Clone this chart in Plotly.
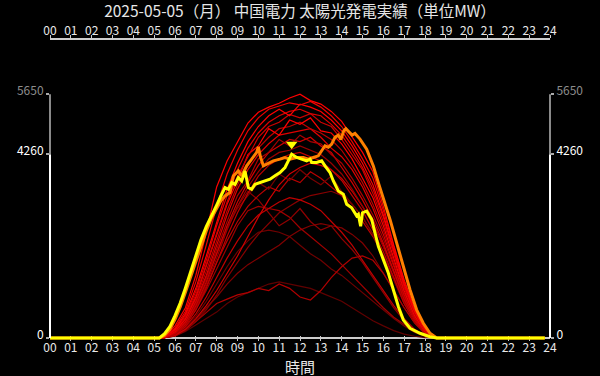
import plotly.graph_objects as go

TITLE = "2025-05-05（月） 中国電力 太陽光発電実績（単位MW）"
X_TITLE = "時間"
HOUR_TICKS = list(range(25))
HOUR_LABELS = [f"{h:02d}" for h in HOUR_TICKS]
Y_TICKS = [0, 4260, 5650]
Y_TICK_LABELS = ["0", "4260", "5650"]

# --- past days (30-minute readings, 00:00 / 05:00 ... 19:00 / 23:45) ---
PAST_T = [0.0, 5.0, 5.5, 6.0, 6.5, 7.0, 7.5, 8.0, 8.5, 9.0, 9.5, 10.0, 10.5, 11.0, 11.5,
          12.0, 12.5, 13.0, 13.5, 14.0, 14.5, 15.0, 15.5, 16.0, 16.5, 17.0, 17.5, 18.0,
          18.5, 19.0, 23.75]

C1 = [0, 0, 10, 90, 300, 650, 1100, 1600, 2100, 2600, 2950, 3050, 3000, 2950, 2800, 2550, 2350, 2150, 1950, 1700, 1450, 1200, 950, 700, 480, 320, 150, 50, 5, 0, 0]
C2 = [0, 0, 5, 60, 200, 420, 700, 950, 1250, 1500, 1700, 1850, 2000, 2150, 2350, 2500, 2600, 2650, 2600, 2550, 2400, 2200, 1900, 1500, 1100, 700, 350, 100, 5, 0, 0]
C3 = [0, 0, 5, 50, 180, 380, 600, 800, 900, 1000, 1050, 1150, 1100, 1250, 1150, 950, 880, 1100, 1400, 1650, 1850, 1900, 1800, 1500, 1100, 700, 350, 90, 5, 0, 0]
C4 = [0, 0, 5, 70, 230, 500, 850, 1250, 1650, 2000, 2250, 2450, 2500, 2450, 2350, 2150, 1950, 1800, 1600, 1450, 1250, 1050, 850, 650, 450, 280, 130, 40, 0, 0, 0]
C5 = [0, 0, 5, 80, 260, 560, 950, 1400, 1850, 2250, 2600, 2850, 3000, 3150, 3250, 3200, 3100, 2950, 2700, 2450, 2150, 1800, 1450, 1100, 750, 450, 200, 60, 5, 0, 0]
C6 = [0, 0, 5, 40, 150, 300, 450, 600, 800, 950, 1050, 1150, 1250, 1300, 1250, 1200, 1150, 1050, 950, 850, 700, 550, 400, 280, 170, 90, 40, 10, 0, 0, 0]
C7 = [0, 0, 10, 100, 320, 700, 1200, 1750, 2250, 2700, 3050, 3300, 3500, 3400, 3700, 3600, 3850, 3700, 3500, 3300, 3000, 2700, 2350, 1900, 1400, 850, 400, 110, 5, 0, 0]
C8 = [0, 0, 5, 60, 200, 450, 750, 1100, 1500, 1900, 2350, 2800, 3200, 3550, 3800, 3950, 4050, 4000, 3900, 3700, 3400, 3050, 2650, 2150, 1550, 950, 450, 120, 5, 0, 0]
C9 = [0, 0, 10, 110, 360, 780, 1350, 1950, 2550, 3050, 3400, 3200, 2900, 2600, 2750, 3000, 2700, 2500, 2600, 2300, 2050, 1750, 1400, 1050, 700, 400, 180, 50, 0, 0, 0]
C10 = [0, 0, 10, 120, 380, 820, 1400, 2000, 2550, 3000, 3300, 3600, 3450, 3800, 3650, 3900, 3700, 3550, 3750, 3400, 3100, 2800, 2400, 1900, 1350, 800, 380, 100, 5, 0, 0]
C11 = [0, 0, 5, 50, 170, 380, 650, 1000, 1400, 1750, 2100, 2400, 2650, 2900, 3050, 3200, 3300, 3350, 3400, 3300, 3100, 2800, 2400, 1900, 1350, 800, 380, 100, 5, 0, 0]

D1 = [0, 0, 40, 280, 700, 1450, 2450, 3500, 4100, 4550, 4980, 5230, 5350, 5440, 5560, 5650, 5500, 5420, 5250, 5020, 4650, 4300, 3850, 3050, 2150, 1350, 680, 220, 20, 0, 0]
D2 = [0, 0, 30, 230, 620, 1300, 2150, 3050, 3800, 4350, 4800, 5100, 5300, 5380, 5450, 5400, 5480, 5350, 5150, 4900, 4550, 4150, 3700, 2950, 2100, 1300, 650, 200, 15, 0, 0]
D3 = [0, 0, 25, 200, 560, 1150, 1900, 2700, 3450, 4050, 4550, 4900, 5150, 5300, 5150, 5420, 5350, 5250, 5050, 4800, 4450, 4050, 3550, 2850, 2050, 1250, 620, 190, 10, 0, 0]
D4 = [0, 0, 20, 180, 520, 1080, 1800, 2600, 3300, 3900, 4400, 4750, 5000, 5150, 5250, 5300, 5200, 5150, 4950, 4700, 4350, 3950, 3450, 2800, 2000, 1200, 600, 180, 10, 0, 0]
D5 = [0, 0, 20, 170, 480, 1000, 1700, 2450, 3150, 3750, 4200, 4650, 4900, 5000, 5180, 5100, 5200, 5000, 4900, 4600, 4250, 3900, 3350, 2700, 1950, 1150, 560, 160, 10, 0, 0]
D6 = [0, 0, 15, 150, 450, 950, 1650, 2400, 3100, 3650, 4250, 4450, 4850, 4700, 5050, 4950, 5100, 4800, 4750, 4500, 4150, 3700, 3250, 2600, 1850, 1100, 520, 150, 10, 0, 0]
D7 = [0, 0, 15, 140, 420, 900, 1550, 2250, 2950, 3550, 4000, 4400, 4650, 4850, 4900, 5000, 4850, 4750, 4600, 4350, 4000, 3600, 3100, 2500, 1800, 1050, 500, 140, 10, 0, 0]
D8 = [0, 0, 10, 120, 380, 850, 1450, 2150, 2850, 3450, 3900, 4250, 4500, 4700, 4750, 4800, 4850, 4650, 4400, 4200, 3900, 3500, 3000, 2400, 1700, 1000, 470, 130, 5, 0, 0]
D9 = [0, 0, 10, 110, 350, 800, 1400, 2050, 2700, 3300, 3650, 4150, 4300, 4600, 4450, 4700, 4550, 4500, 4250, 4050, 3700, 3300, 2850, 2300, 1650, 950, 450, 120, 5, 0, 0]
D10 = [0, 0, 10, 100, 320, 750, 1300, 1950, 2600, 3150, 3600, 4000, 4300, 4450, 4600, 4550, 4650, 4450, 4300, 3950, 3600, 3200, 2750, 2200, 1550, 900, 420, 110, 5, 0, 0]
D11 = [0, 0, 10, 90, 300, 700, 1250, 1850, 2500, 3050, 3500, 3850, 4150, 4300, 4350, 4450, 4350, 4250, 4050, 3800, 3450, 3050, 2650, 2100, 1500, 850, 400, 100, 5, 0, 0]
D12 = [0, 0, 5, 80, 280, 650, 1150, 1750, 2350, 2900, 3350, 3750, 4000, 4150, 4250, 4300, 4200, 4100, 3900, 3650, 3300, 2950, 2500, 2000, 1400, 800, 380, 100, 5, 0, 0]

PAST_SERIES = [C6, C4, C2, C3, C11, C1, C9, C5, C7, C10, C8,
               D12, D11, D10, D9, D8, D7, D6, D5, D4, D3, D2, D1]
PAST_COLORS = ["#600000", "#700000", "#800000", "#b00000", "#880000", "#a00000", "#900000", "#c00000", "#b80000", "#780000", "#d00000",
               "#c00000", "#990000", "#d00000", "#aa0000", "#e00000", "#bb0000", "#ff0000", "#cc0000", "#dd0000", "#ff0000", "#ee0000", "#ff0000"]

# --- previous day (orange) ---
ORANGE_T = [0, 5.25, 5.5, 5.75, 6.0, 6.25, 6.5, 6.75, 7.0, 7.25, 7.5, 7.75, 8.0, 8.2, 8.4, 8.64, 8.8, 9.04, 9.2, 9.44,
            9.68, 9.92, 10.0, 10.1, 10.24, 10.4, 10.72, 11.04, 11.28, 11.52, 11.84, 12.16, 12.4, 12.64, 12.88, 13.04, 13.2,
            13.36, 13.52, 13.68, 13.84, 13.96, 14.1, 14.2, 14.35, 14.5, 14.64, 14.88, 15.2, 15.52, 15.76, 16.0, 16.32,
            16.64, 16.96, 17.28, 17.6, 17.92, 18.24, 18.56, 23.75]
ORANGE_V = [0, 0, 60, 200, 430, 720, 1060, 1420, 1780, 2150, 2480, 2780, 3000, 3180, 3290, 3369, 3755, 3872, 3755, 3988,
            4144, 4300, 4430, 4200, 3990, 4030, 4105, 4144, 4183, 4144, 4183, 4183, 4144, 4183, 4221, 4338, 4454,
            4420, 4493, 4649, 4700, 4600, 4800, 4850, 4780, 4700, 4740, 4609, 4377, 3988, 3601, 3252, 2747,
            2205, 1660, 1117, 652, 342, 109, 0, 0]

# --- today (yellow) ---
YEL_T = [0, 5.0, 5.25, 5.5, 5.75, 6.0, 6.25, 6.5, 6.75, 7.0, 7.25, 7.5, 7.75, 8.0, 8.2, 8.4, 8.56, 8.72, 8.88, 9.04,
         9.2, 9.36, 9.52, 9.68, 9.84, 10.08, 10.3, 10.56, 10.8, 11.04, 11.28, 11.52, 11.6, 11.84, 12.08, 12.32, 12.48,
         12.56, 12.8, 13.04, 13.2, 13.44, 13.6, 13.84, 14.08, 14.24, 14.48, 14.72, 14.8, 14.91, 15.0, 15.2, 15.44, 15.6,
         15.76, 16.0, 16.24, 16.48, 16.72, 16.96, 17.28, 17.76, 18.24, 18.56, 23.75]
YEL_V = [0, 0, 0, 100, 260, 520, 810, 1160, 1530, 1880, 2280, 2580, 2850, 3080, 3290, 3485, 3445, 3600, 3560, 3718,
         3640, 3870, 3485, 3445, 3560, 3600, 3630, 3678, 3760, 3834, 3950, 4183, 4260, 4183, 4144, 4105, 4144,
         4067, 4067, 4105, 3988, 3834, 3639, 3406, 3329, 3096, 3019, 2830, 2863, 2591, 2903, 2941, 2747, 2437,
         2125, 1816, 1506, 1117, 729, 419, 225, 109, 30, 0, 0]

# ---------------- layout geometry ----------------
W, H = 600, 376
M_L, M_R, M_T, M_B = 50, 50, 40, 35
Y_MIN, Y_MAX = -70, 6905
MW_PER_PX = (Y_MAX - Y_MIN) / (H - M_T - M_B)
FONT = "Noto Sans CJK JP"

fig = go.Figure()
for vals, col in zip(PAST_SERIES, PAST_COLORS):
    fig.add_trace(go.Scatter(x=PAST_T, y=vals, mode="lines",
                             line=dict(color=col, width=1.2), hoverinfo="skip"))
fig.add_trace(go.Scatter(x=ORANGE_T, y=ORANGE_V, mode="lines",
                         line=dict(color="#ff8000", width=3), hoverinfo="skip"))
fig.add_trace(go.Scatter(x=YEL_T, y=YEL_V, mode="lines", xaxis="x2", yaxis="y2",
                         line=dict(color="#ffff00", width=3), hoverinfo="skip"))
imax = max(range(len(YEL_V)), key=YEL_V.__getitem__)
fig.add_trace(go.Scatter(x=[YEL_T[imax]], y=[YEL_V[imax] + 10 * MW_PER_PX], mode="markers",
                         xaxis="x2", yaxis="y2",
                         marker=dict(symbol="triangle-down", size=10, color="#ffff00"), hoverinfo="skip"))

tickfont = dict(family=FONT, size=12, color="#e8e8e8")
ylabels = [Y_TICK_LABELS[0], Y_TICK_LABELS[1], f"<span style='color:#8c8c8c'>{Y_TICK_LABELS[2]}</span>"]

common_x = dict(range=[0, 24], tickvals=HOUR_TICKS, ticktext=HOUR_LABELS, showgrid=False,
                zeroline=False, tickfont=tickfont, fixedrange=True)
common_y = dict(range=[Y_MIN, Y_MAX], tickvals=Y_TICKS, ticktext=ylabels, showgrid=False,
                zeroline=False, showline=False, ticks="outside", ticklen=3, tickwidth=2,
                tickcolor="#aaaaaa", tickfont=dict(family=FONT, size=12, color="#ffffff"),
                ticklabelshift=-3, fixedrange=True)

fig.update_layout(
    width=W, height=H,
    margin=dict(l=M_L, r=M_R, t=M_T, b=M_B),
    paper_bgcolor="black", plot_bgcolor="black",
    showlegend=False,
    font=dict(family=FONT, color="#e8e8e8"),
    title=dict(text=TITLE, x=0.5, xanchor="center", y=1 - 11.5 / H, yanchor="middle",
               yref="container", font=dict(family=FONT, size=15.5, color="#e6e6e6")),
    xaxis=dict(**common_x, side="bottom", ticks="inside", ticklen=5, tickcolor="#cccccc",
               showline=False, layer="below traces", ticklabelstandoff=-2),
    xaxis2=dict(**common_x, side="top", overlaying="x", anchor="y2", ticks="outside", ticklen=3,
                tickcolor="#cccccc", showline=True, linecolor="#cccccc", linewidth=2,
                ticklabelstandoff=-5),
    yaxis=dict(**common_y, side="left"),
    yaxis2=dict(**common_y, side="right", overlaying="y", anchor="x2"),
    shapes=[
        dict(type="line", xref="x", yref="y", x0=0, x1=24, y0=0, y1=0,
             line=dict(color="#cccccc", width=2), layer="below"),
        dict(type="line", xref="paper", yref="y", x0=0, x1=0, y0=Y_TICKS[0], y1=Y_TICKS[1],
             line=dict(color="#ffffff", width=2)),
        dict(type="line", xref="paper", yref="y", x0=0, x1=0, y0=Y_TICKS[1], y1=Y_TICKS[2],
             line=dict(color="#8a8a8a", width=2)),
        dict(type="line", xref="paper", yref="y", x0=1, x1=1, y0=Y_TICKS[0], y1=Y_TICKS[1],
             line=dict(color="#ffffff", width=2)),
        dict(type="line", xref="paper", yref="y", x0=1, x1=1, y0=Y_TICKS[1], y1=Y_TICKS[2],
             line=dict(color="#8a8a8a", width=2)),
    ],
    annotations=[
        dict(text=X_TITLE, xref="paper", yref="paper", x=0.5, y=0, xanchor="center",
             yanchor="middle", yshift=-25, showarrow=False,
             font=dict(family=FONT, size=15, color="#e8e8e8")),
    ],
)

fig.write_html("out.html", config={"displayModeBar": False})
